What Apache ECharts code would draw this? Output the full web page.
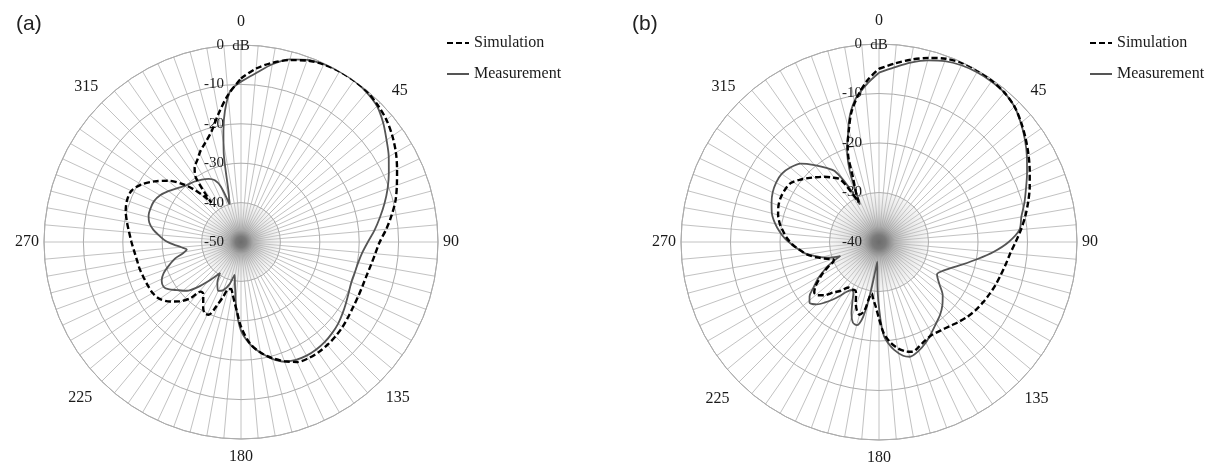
<!DOCTYPE html>
<html><head><meta charset="utf-8">
<script src="https://cdn.jsdelivr.net/npm/echarts@6/dist/echarts.min.js"></script>
<style>html,body{margin:0;padding:0;background:#fff}#c{width:1220px;height:470px}</style>
</head><body><div id="c"></div>
<script>
// ---------- data (angle in degrees, level in dB) ----------
const angleTickLabels = [0, 45, 90, 135, 180, 225, 270, 315];
const seriesNames = ['Simulation', 'Measurement'];
const radiusMinA = -50, radiusMinB = -40;

// (a)
const aSimDeg = [0,5,10,15,20,25,30,35,40,45,50,55,60,65,70,75,80,85,90,95,100,105,110,115,120,125,130,135,140,145,150,155,160,165,170,175,180,183,186,189,192,195,198,201,204,207,210,213,216,219,222,226,230,235,240,245,250,255,260,265,270,275,280,285,290,295,300,305,310,315,318,321,323,325,328,332,336,340,345,350,355,360];
const aSimDb = [-8.5,-5.8,-3.8,-2.2,-1,-0.3,0,0,-0.2,-0.9,-1.8,-3.1,-4.6,-6.3,-7.9,-9.4,-11.2,-13,-14.8,-15.8,-16.5,-17,-17.2,-17.2,-17.1,-16.8,-16.4,-16.1,-15.9,-15.8,-15.9,-16.4,-17.8,-19.5,-21.5,-24.2,-28.5,-32,-34.5,-36.5,-37.8,-37.6,-35.4,-32.5,-29.8,-29.7,-30.8,-32.4,-33.7,-33.8,-30.8,-28.3,-26.5,-24.8,-24.1,-23.9,-23.7,-23.4,-23.2,-22.8,-22.2,-21.5,-20.6,-19.7,-19.2,-19.3,-20.8,-23.2,-25.8,-29.3,-32,-35,-37.5,-30,-27.8,-26.4,-24.7,-23.3,-21,-17,-12.5,-8.5];
const aMeasDeg = [0,5,10,15,20,25,30,35,40,45,50,55,60,65,70,75,80,85,90,95,100,105,110,115,120,125,130,135,140,145,150,155,160,165,170,175,180,184,188,191,195,200,205,210,214,219,224,228,233,237,240,244,248,252,256,259,262,265,268,271,274,278,282,286,290,295,300,305,310,316,322,328,333,337,340,343,346,348,349,351,353,356,360];
const aMeasDb = [-9.3,-7,-4.2,-2,-0.8,-0.2,0,0,-0.4,-1.2,-2.9,-4.9,-6.7,-8.6,-10.4,-12.3,-14.2,-16,-17.8,-19.1,-19.8,-20.1,-20.2,-19.8,-19.2,-18.5,-17.8,-17.3,-16.9,-16.7,-16.7,-17,-17.7,-19.3,-21.5,-24,-27.5,-33,-39,-41.5,-39,-37,-36.3,-38,-40.5,-37.6,-34,-31.5,-29.7,-28,-27.3,-27.6,-28.8,-30.8,-32.8,-35,-36.1,-34.8,-32.8,-30.8,-29.4,-27.5,-26.2,-25.6,-25.5,-25.6,-26.3,-27.5,-28.8,-30,-30.6,-31.3,-32,-33,-35,-40,-37,-31,-27,-21.5,-16.5,-11.5,-9.3];

// (b)
const bSimDeg = [0,5,10,15,20,25,30,35,40,45,50,55,60,65,70,75,80,85,90,95,100,105,110,115,120,125,130,135,140,145,150,155,160,163,166,170,174,177,180,183,186,188,190,192,195,198,201,204,206,210,214,218,222,226,229,232,235,238,241,244,247,249,252,256,260,264,268,272,276,280,285,290,295,300,304,308,312,316,320,324,328,330,333,335,338,340,342,345,348,352,356,360];
const bSimDb = [-5,-3.8,-2.6,-1.5,-0.6,-0.1,0,-0.2,-0.6,-1.3,-2.5,-3.8,-5.1,-6.4,-7.6,-8.8,-10,-11.2,-12.4,-13.4,-14,-14.5,-14.9,-15.3,-15.7,-16.1,-16.6,-17.2,-17.8,-18.2,-18.4,-18,-17.2,-16.8,-17.2,-18.2,-19.8,-21.5,-24.5,-27,-28.5,-29.5,-28.5,-25.8,-24.8,-25.5,-26.9,-28.6,-29.1,-29,-28.9,-27.5,-26.3,-24.5,-23.6,-23.4,-24.3,-25.7,-27,-28.6,-30,-30.2,-29,-27.1,-25.3,-24,-22.6,-21.5,-20.6,-19.7,-18.9,-18.4,-18.2,-18.3,-18.6,-19.6,-20.7,-21.8,-22.8,-23.9,-25,-27,-31,-29,-26,-22,-19.5,-16.5,-13.2,-10,-7.2,-5];
const bMeasDeg = [0,5,10,15,20,25,30,35,40,45,50,55,60,65,70,75,80,85,90,95,100,105,110,115,119,122,125,130,135,140,145,150,155,160,165,168,172,175,177,179,182,185,188,190,192,195,198,201,204,207,210,213,216,219,222,225,229,232,235,239,242,245,248,250,253,256,258,261,265,268,272,276,280,285,290,295,300,305,310,315,320,325,328,331,333,335,337,339,341,344,347,351,356,360];
const bMeasDb = [-5.8,-4.6,-3.2,-2,-1.1,-0.6,-0.4,-0.4,-0.6,-1.3,-2.6,-4,-5.5,-7,-8.4,-9.6,-10.8,-11.5,-13.8,-16.8,-19.9,-22.5,-24.6,-26,-26.6,-26,-25.1,-23.2,-21.9,-20.8,-19.9,-18.8,-17.6,-16.6,-16,-16.5,-18,-19.6,-21,-24.5,-31,-36,-33,-28.5,-24.5,-22.6,-22.9,-24.5,-26.8,-28.6,-28.8,-28,-26.5,-25,-23.5,-22.2,-21.4,-22.2,-23.8,-25.6,-27.2,-28.7,-30.5,-31.7,-29.1,-27.6,-26.6,-25,-23.6,-22.5,-21,-19.8,-18.7,-17.6,-16.9,-16.3,-16,-16,-16.6,-17.6,-19.7,-21.8,-23.1,-27,-31.5,-29.5,-25.5,-22.5,-20.2,-17.3,-13.8,-10.5,-7.8,-5.8];

// ---------- chart ----------
const pairs = (deg, db) => deg.map((d, i) => [db[i], d]);
const serif = 'Liberation Serif';
const labelRich = {
  l0:   { padding: [0, 0, 10, 0] },
  l45:  { padding: [0, 0, 0, 8] },
  l90:  { padding: [0, 0, 0, 0] },
  l135: { padding: [5, 0, 0, 2] },
  l180: { padding: [5, 0, 0, 0] },
  l225: { padding: [5, 6, 0, 0] },
  l270: { padding: [0, 0, 0, 0] },
  l315: { padding: [0, 0, 4, 0] }
};
Object.keys(labelRich).forEach(k => Object.assign(labelRich[k], { fontFamily: serif, fontSize: 16, color: '#1a1a1a' }));

function angleAxis(idx) {
  return {
    polarIndex: idx, type: 'value', min: 0, max: 360, interval: 5,
    startAngle: 90, clockwise: true, z: 0,
    axisLine: { show: true, lineStyle: { color: '#acacac', width: 1 } },
    axisTick: { show: false },
    axisLabel: {
      margin: 5, fontFamily: serif, fontSize: 16, color: '#1a1a1a', rich: labelRich,
      formatter: v => (angleTickLabels.indexOf(v) >= 0 ? '{l' + v + '|' + v + '}' : '')
    },
    splitLine: { show: true, lineStyle: { color: '#c2c2c2', width: 1 } }
  };
}
function radiusAxis(idx, min) {
  return {
    polarIndex: idx, type: 'value', min: min, max: 0, interval: 10, z: 2,
    axisLine: { show: false }, axisTick: { show: false },
    axisLabel: { showMinLabel: true, fontFamily: serif, fontSize: 15, color: '#1a1a1a', margin: 17 },
    splitLine: { show: true, lineStyle: { color: '#acacac', width: 1 } },
    name: 'dB', nameLocation: 'end', nameGap: -9,
    nameTextStyle: { fontFamily: serif, fontSize: 15, color: '#1a1a1a' }
  };
}
// grey hub inside the innermost ring (drawn through the polar scale)
function hubSeries(idx, min) {
  return {
    type: 'custom', coordinateSystem: 'polar', polarIndex: idx, z: 1, silent: true,
    data: [[min, 0]],
    renderItem: (params, api) => {
      const c = api.coord([min, 0]);
      const e = api.coord([min + 10, 0]);
      const r = Math.hypot(e[0] - c[0], e[1] - c[1]);
      return {
        type: 'circle', shape: { cx: c[0], cy: c[1], r: r },
        style: { fill: new echarts.graphic.RadialGradient(0.5, 0.5, 0.5, [
          { offset: 0, color: 'rgba(108,108,108,1)' },
          { offset: 0.14, color: 'rgba(118,118,118,0.95)' },
          { offset: 0.32, color: 'rgba(155,155,155,0.7)' },
          { offset: 0.65, color: 'rgba(190,190,190,0.42)' },
          { offset: 1, color: 'rgba(210,210,210,0.2)' }
        ]) }
      };
    }
  };
}
function simSeries(idx, deg, db) {
  return { type: 'line', name: seriesNames[0], coordinateSystem: 'polar', polarIndex: idx,
    data: pairs(deg, db), symbol: 'none', smooth: 0.3, z: 4,
    itemStyle: { color: '#000' },
    lineStyle: { color: '#000', width: 2.4, type: [6, 3] } };
}
function measSeries(idx, deg, db) {
  return { type: 'line', name: seriesNames[1], coordinateSystem: 'polar', polarIndex: idx,
    data: pairs(deg, db), symbol: 'none', smooth: 0.3, z: 3,
    itemStyle: { color: '#555' },
    lineStyle: { color: '#555', width: 1.8 } };
}
function legend(left) {
  return { orient: 'vertical', left: left, top: 35, padding: 0, itemWidth: 22, itemHeight: 14, itemGap: 15,
    data: seriesNames, selectedMode: false,
    itemStyle: { opacity: 0 },
    textStyle: { fontFamily: serif, fontSize: 16, color: '#1a1a1a' } };
}

const chart = echarts.init(document.getElementById('c'), null, { renderer: 'canvas' });
chart.setOption({
  animation: false,
  backgroundColor: '#fff',
  title: [
    { text: '(a)', left: 11, top: 9, textStyle: { fontFamily: 'Liberation Sans', fontWeight: 'normal', fontSize: 21, color: '#222' } },
    { text: '(b)', left: 627, top: 9, textStyle: { fontFamily: 'Liberation Sans', fontWeight: 'normal', fontSize: 21, color: '#222' } }
  ],
  legend: [legend(446), legend(1089)],
  polar: [
    { center: [241, 242], radius: 197 },
    { center: [879, 242], radius: 198 }
  ],
  angleAxis: [angleAxis(0), angleAxis(1)],
  radiusAxis: [radiusAxis(0, radiusMinA), radiusAxis(1, radiusMinB)],
  series: [
    hubSeries(0, radiusMinA), hubSeries(1, radiusMinB),
    simSeries(0, aSimDeg, aSimDb), measSeries(0, aMeasDeg, aMeasDb),
    simSeries(1, bSimDeg, bSimDb), measSeries(1, bMeasDeg, bMeasDb)
  ]
});
</script>
</body></html>
